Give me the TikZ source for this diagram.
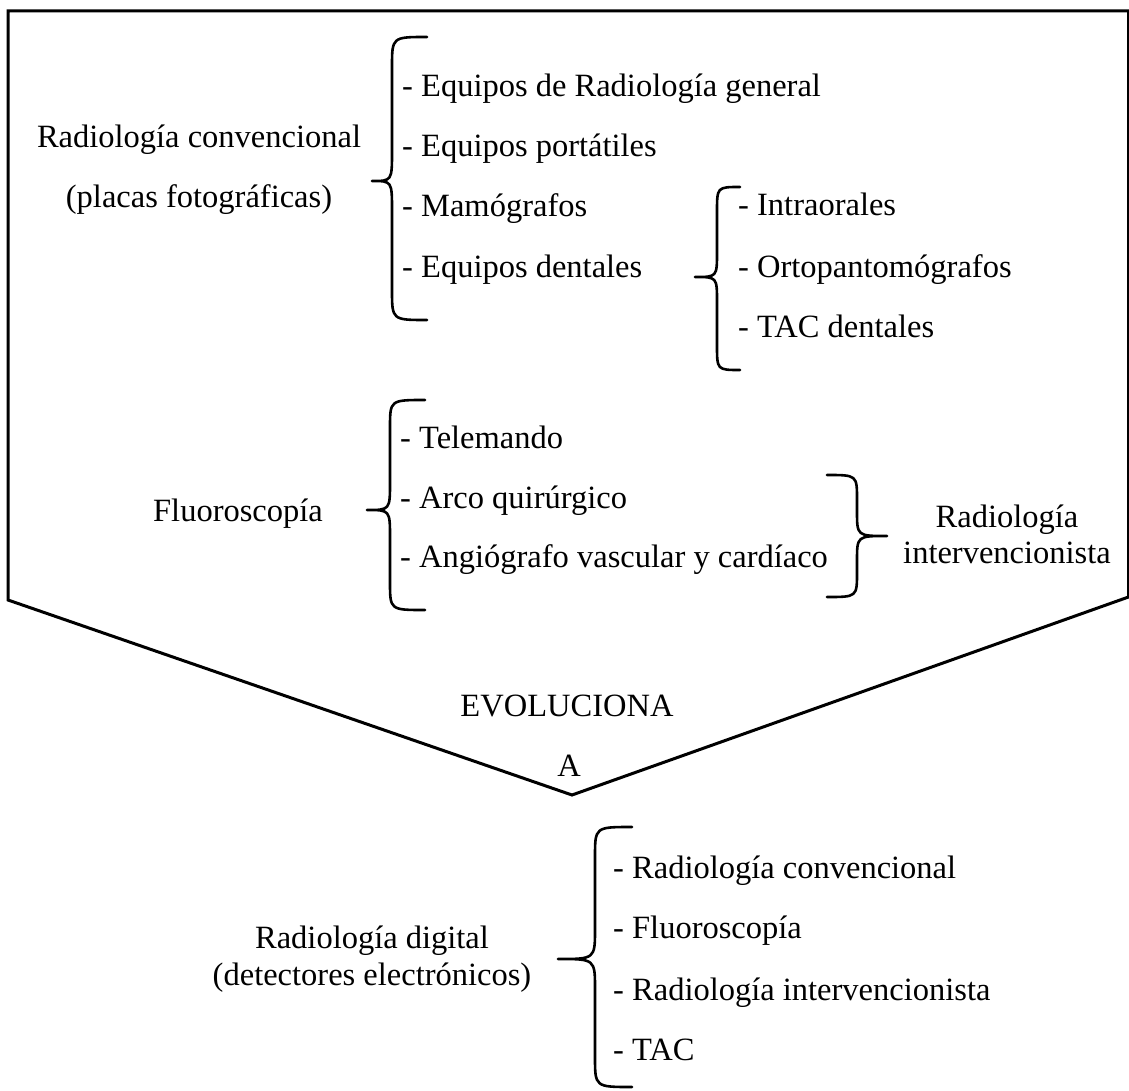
\documentclass[tikz,border=0pt]{standalone}
\usepackage{fontspec}
\setmainfont{Liberation Serif}
% curly brace: spine x, tip x, hook x, top y, tip y, bottom y, bend
\newcommand\curlybrace[7]{%
  \draw[bracestyle] (#3,#4) .. controls (#1,#4) .. (#1,#4+#7)
    -- (#1,#5-#7) .. controls (#1,#5) .. (#2,#5)
    .. controls (#1,#5) .. (#1,#5+#7)
    -- (#1,#6-#7) .. controls (#1,#6) .. (#3,#6);}
\begin{document}
\begin{tikzpicture}[x=1pt,y=-1pt,
  lbl/.style={inner sep=0pt, font=\fontsize{32.5}{39}\selectfont},
  item/.style={lbl, anchor=base west},
  head/.style={lbl, anchor=base},
  bracestyle/.style={line width=2.6pt, line cap=round, line join=round},
  frame/.style={line width=3pt, line join=miter}]
\useasboundingbox (0,0) rectangle (1129,1091);

% outer arrow-shaped frame
\draw[frame] (8,11) -- (1128.5,11) -- (1128.5,597) -- (572,795) -- (8,600) -- cycle;

% conventional radiology
\node[head] (conv1) at (199,148) {Radiología convencional};
\node[head] (conv2) at (199,208) {(placas fotográficas)};
\curlybrace{392}{372}{427}{37}{181}{320}{30}
\node[item] (c1) at (402,97) {- Equipos de Radiología general};
\node[item] (c2) at (402,157) {- Equipos portátiles};
\node[item] (c3) at (402,217) {- Mamógrafos};
\node[item] (c4) at (402,277) {- Equipos dentales};

% dental equipment
\curlybrace{717}{695}{740}{187}{277}{370}{25}
\node[item] (d1) at (738,216) {- Intraorales};
\node[item] (d2) at (738,277) {- Ortopantomógrafos};
\node[item] (d3) at (738,337) {- TAC dentales};

% fluoroscopy
\node[head] (fluo) at (238,521) {Fluoroscopía};
\curlybrace{390}{367}{425}{400}{510}{610}{28}
\node[item] (f1) at (400,448) {- Telemando};
\node[item] (f2) at (400,508) {- Arco quirúrgico};
\node[item] (f3) at (400,567) {- Angiógrafo vascular y cardíaco};

% interventional radiology
\curlybrace{857}{887}{827}{475}{536}{597}{25}
\node[head] (int1) at (1007,527) {Radiología};
\node[head] (int2) at (1007,563) {intervencionista};

% transition
\node[head] (evo) at (567,716) {EVOLUCIONA};
\node[head] (evoa) at (569,776) {A};

% digital radiology
\node[head] (dig1) at (372,948) {Radiología digital};
\node[head] (dig2) at (372,985) {(detectores electrónicos)};
\curlybrace{595}{558}{632}{827}{959}{1087}{30}
\node[item] (g1) at (613,878) {- Radiología convencional};
\node[item] (g2) at (613,938) {- Fluoroscopía};
\node[item] (g3) at (613,1000) {- Radiología intervencionista};
\node[item] (g4) at (613,1060) {- TAC};
\end{tikzpicture}
\end{document}
